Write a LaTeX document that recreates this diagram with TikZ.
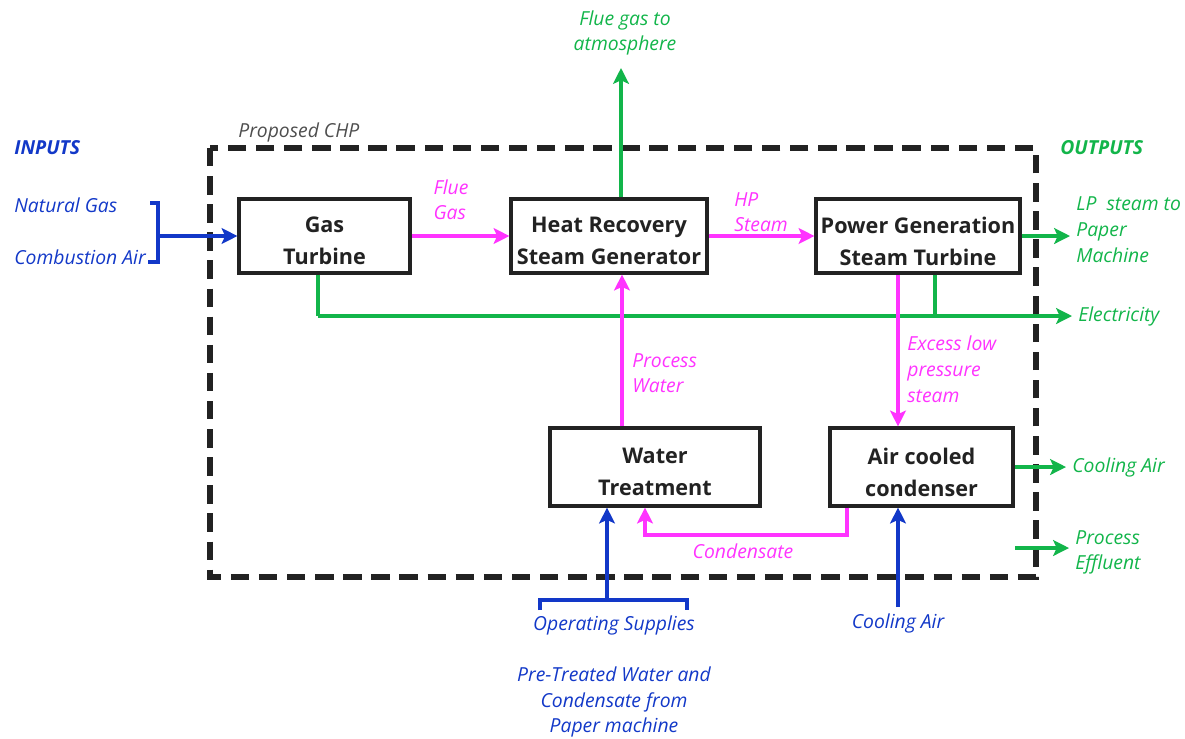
\documentclass[tikz,border=0pt]{standalone}
\usepackage{fontspec}
\setmainfont{Open Sans}
\usetikzlibrary{arrows.meta}
\definecolor{cblue}{HTML}{1238C8}
\definecolor{cmag}{HTML}{FF33FF}
\definecolor{cgreen}{HTML}{12B54A}
\definecolor{cbox}{HTML}{222222}
\tikzset{
  box/.style={draw=cbox, line width=1.8pt, fill=white, minimum height=1.48cm, inner sep=0pt},
  boxtext/.style={font=\fontsize{12.3}{18.2}\selectfont\bfseries, align=center, text=cbox, inner sep=0pt, yshift=-2.8pt},
  lab/.style={font=\fontsize{11}{14.2}\selectfont\itshape, inner sep=0pt, align=left},
  flow/.style={line width=2.4pt, -{Stealth[length=9pt,width=9pt,inset=2pt]}},
  plain/.style={line width=2.4pt},
  dashbox/.style={draw=cbox, line width=3.6pt, dash pattern=on 10.5pt off 5.5pt}
}
\begin{document}
\begin{tikzpicture}[x=0.02cm,y=-0.02cm]
\useasboundingbox (0,0) rectangle (1185,738);
% dashed boundary
\draw[dashbox] (210,148) rectangle (1036,577);
\node[lab, anchor=west, text=cbox!80] (chp) at (238,132) {Proposed CHP};
% boxes
\node[box, minimum width=3.42cm, label={[boxtext]center:{Gas\\Turbine}}] (gt) at (324.5,236) {};
\node[box, minimum width=3.92cm, label={[boxtext]center:{Heat Recovery\\Steam Generator}}] (hrsg) at (609,236) {};
\node[box, minimum width=4.08cm, label={[boxtext]center:{Power Generation\\Steam Turbine}}] (pgst) at (918,236) {};
\node[box, minimum width=4.2cm, minimum height=1.56cm, label={[boxtext]center:{Water\\Treatment}}] (wt) at (655,467) {};
\node[box, minimum width=3.66cm, minimum height=1.56cm, label={[boxtext]center:{Air cooled\\condenser}}] (acc) at (921.5,467) {};
% inputs
\node[lab, anchor=west, text=cblue, font=\fontsize{11}{14}\selectfont\bfseries\itshape] (inputs) at (14,148) {INPUTS};
\node[lab, anchor=west, text=cblue] (ng) at (14,205) {Natural Gas};
\node[lab, anchor=west, text=cblue] (ca) at (14,257) {Combustion Air};
\coordinate (brk) at (158,236);
\draw[cblue, plain] (150,203) -- (158,203) -- (158,262) -- (148,262);
\draw[cblue, flow] (brk) -- (gt.west);
% flue gas
\node[lab, text=cmag] (fgl) at (451,200) {Flue\\Gas};
\draw[cmag, flow] (gt.east) -- (hrsg.west);
% flue gas to atmosphere
\coordinate (atm) at (621,68);
\draw[cgreen, flow] (hrsg.north -| atm) -- (atm);
\node[lab, text=cgreen, align=center] (atml) at (625,33) {Flue gas to\\atmosphere};
% HP steam
\node[lab, text=cmag] (hpl) at (761,212) {HP\\Steam};
\draw[cmag, flow] (hrsg.east) -- (pgst.west);
% outputs
\node[lab, anchor=west, text=cgreen, font=\fontsize{11}{14}\selectfont\bfseries\itshape] (outputs) at (1060,148) {OUTPUTS};
\coordinate (lp) at (1070,236);
\draw[cgreen, flow] (pgst.east) -- (lp);
\node[lab, anchor=west, text=cgreen, font=\fontsize{11}{14.8}\selectfont\itshape] (lpl) at (1076,230) {LP\ \ steam to\\Paper\\Machine};
% electricity
\coordinate (el) at (1072,316);
\coordinate (gtx) at (318,316);
\coordinate (stx) at (935,316);
\draw[cgreen, plain] (gt.south -| gtx) -- (gtx);
\draw[cgreen, plain] (pgst.south -| stx) -- (stx);
\draw[cgreen, flow] (gtx) -- (el);
\node[lab, anchor=west, text=cgreen] (ell) at (1078,316) {Electricity};
% excess LP steam
\coordinate (ex) at (898,0);
\draw[cmag, flow] (pgst.south -| ex) -- (acc.north -| ex);
\node[lab, anchor=north west, text=cmag, font=\fontsize{11}{14.8}\selectfont\itshape] (exl) at (907,335) {Excess low\\pressure\\steam};
% process water
\coordinate (pw) at (622,0);
\draw[cmag, flow] (wt.north -| pw) -- (hrsg.south -| pw);
\node[lab, anchor=north west, text=cmag] (pwl) at (632,353) {Process\\Water};
% cooling air out
\coordinate (cao) at (1066,467);
\draw[cgreen, flow] (acc.east) -- (cao);
\node[lab, anchor=west, text=cgreen] (caol) at (1072,467) {Cooling Air};
% process effluent
\coordinate (pe0) at (1015,548);
\coordinate (pe1) at (1069,548);
\draw[cgreen, flow] (pe0) -- (pe1);
\node[lab, anchor=west, text=cgreen] (pel) at (1075,552) {Process\\Effluent};
% condensate
\coordinate (cd1) at (847,535);
\coordinate (cd2) at (645,535);
\draw[cmag, flow] (acc.south -| cd1) -- (cd1) -- (cd2) -- (wt.south -| cd2);
\node[lab, text=cmag] (cdl) at (743,551) {Condensate};
% operating supplies
\coordinate (os) at (607,600);
\draw[cblue, plain] (540,610) -- (540,600) -- (687,600) -- (687,610);
\draw[cblue, flow] (os) -- (wt.south -| os);
\node[lab, text=cblue] (osl) at (614,625) {Operating Supplies};
% cooling air in
\coordinate (ci) at (898,607);
\draw[cblue, flow] (ci) -- (acc.south -| ci);
\node[lab, text=cblue] (cil) at (898,623) {Cooling Air};
% pre-treated
\node[lab, text=cblue, align=center, font=\fontsize{11}{14.6}\selectfont\itshape] (ptl) at (614,702) {Pre-Treated Water and\\Condensate from\\Paper machine};
\end{tikzpicture}
\end{document}
